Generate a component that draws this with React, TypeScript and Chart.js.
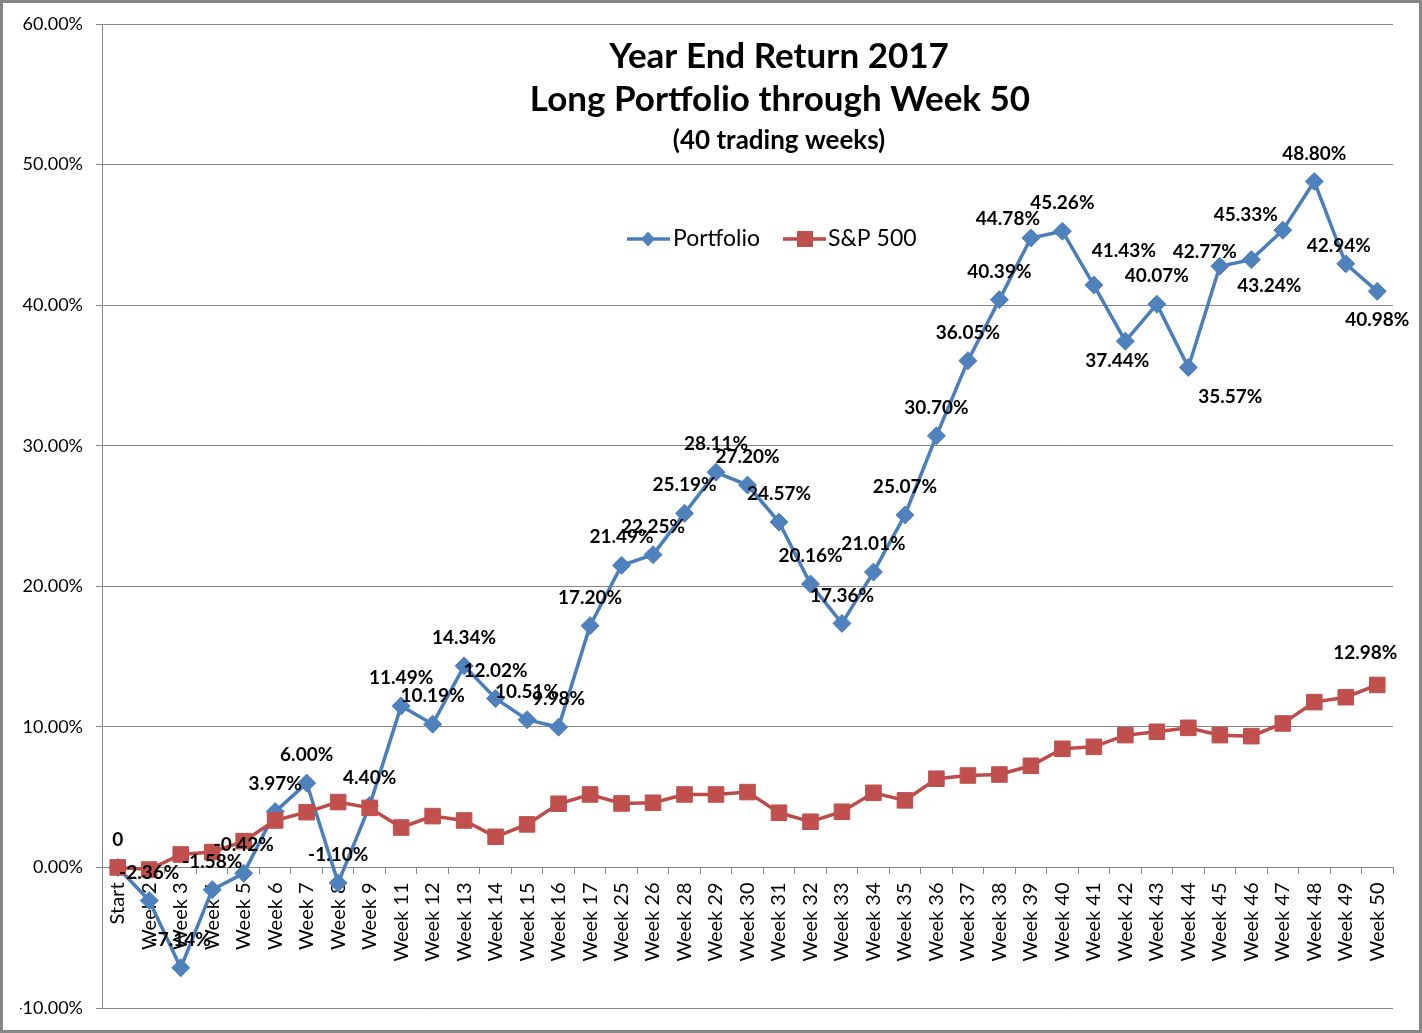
import React, { useEffect, useRef } from "react";
import { Chart, registerables } from "chart.js";

Chart.register(...registerables);

const categories = [
  "Start", "Week 2", "Week 3", "Week 4", "Week 5", "Week 6", "Week 7", "Week 8", "Week 9",
  "Week 11", "Week 12", "Week 13", "Week 14", "Week 15", "Week 16", "Week 17", "Week 25",
  "Week 26", "Week 28", "Week 29", "Week 30", "Week 31", "Week 32", "Week 33", "Week 34",
  "Week 35", "Week 36", "Week 37", "Week 38", "Week 39", "Week 40", "Week 41", "Week 42",
  "Week 43", "Week 44", "Week 45", "Week 46", "Week 47", "Week 48", "Week 49", "Week 50",
];

const portfolio = [
  0, -2.36, -7.14, -1.58, -0.42, 3.97, 6.0, -1.1, 4.4, 11.49, 10.19, 14.34, 12.02, 10.51,
  9.98, 17.2, 21.49, 22.25, 25.19, 28.11, 27.2, 24.57, 20.16, 17.36, 21.01, 25.07, 30.7,
  36.05, 40.39, 44.78, 45.26, 41.43, 37.44, 40.07, 35.57, 42.77, 43.24, 45.33, 48.8, 42.94,
  40.98,
];

const sp500 = [
  0, -0.15, 0.92, 1.09, 1.87, 3.34, 3.93, 4.65, 4.24, 2.84, 3.65, 3.34, 2.18, 3.06, 4.53,
  5.19, 4.55, 4.6, 5.19, 5.19, 5.36, 3.89, 3.25, 3.96, 5.31, 4.77, 6.31, 6.54, 6.61, 7.23,
  8.44, 8.58, 9.41, 9.65, 9.93, 9.41, 9.34, 10.24, 11.76, 12.11, 12.98,
];

const seriesNames = ["Portfolio", "S&P 500"];
const titleLines = ["Year End Return 2017", "Long Portfolio through Week 50", "(40 trading weeks)"];
const yMin = -10;
const yMax = 60;
const yStep = 10;

const portfolioLabels = portfolio.map((v, i) => (i === 0 ? "0" : v.toFixed(2) + "%"));
const sp500LastLabel = sp500[sp500.length - 1].toFixed(2) + "%";

// label placement offsets (pixels) relative to the point
const defaultLabelOffset: [number, number] = [0, -28];
const portfolioLabelOffsets: Record<number, [number, number]> = {
  29: [-23, -19],
  31: [30, -34],
  32: [-8, 20],
  34: [42, 29],
  35: [-15, -14],
  36: [18, 26],
  37: [-37, -15],
  39: [-7, -18],
  40: [0, 29],
};

const FONT = "Lato, 'Open Sans', sans-serif";
const BLUE = "#4F81BD";
const BLUE_LINE = "#4A7EBB";
const RED = "#C0504D";
const RED_LINE = "#BE4B48";
const GRID = "#868686";

const decorPlugin = {
  id: "decor",
  beforeDraw(chart: any) {
    const ctx = chart.ctx;
    ctx.save();
    ctx.fillStyle = "#fff";
    ctx.fillRect(0, 0, chart.width, chart.height);
    ctx.restore();
  },
  afterDatasetsDraw(chart: any) {
    const ctx = chart.ctx;
    ctx.save();
    ctx.font = `bold 19px ${FONT}`;
    ctx.fillStyle = "#000";
    ctx.textAlign = "center";
    ctx.textBaseline = "middle";
    const m0 = chart.getDatasetMeta(0);
    m0.data.forEach((pt: any, i: number) => {
      const off = portfolioLabelOffsets[i] ?? defaultLabelOffset;
      ctx.fillText(portfolioLabels[i], pt.x + off[0], pt.y + off[1]);
    });
    const m1 = chart.getDatasetMeta(1);
    const last = m1.data[m1.data.length - 1];
    ctx.fillText(sp500LastLabel, last.x - 12, last.y - 32);
    ctx.restore();
  },
  afterDraw(chart: any) {
    const ctx = chart.ctx;
    ctx.save();
    // title
    ctx.fillStyle = "#000";
    ctx.textAlign = "center";
    ctx.textBaseline = "alphabetic";
    ctx.font = `bold 35px ${FONT}`;
    ctx.fillText(titleLines[0], 779, 68);
    ctx.fillText(titleLines[1], 780, 111);
    ctx.font = `bold 26px ${FONT}`;
    ctx.fillText(titleLines[2], 779, 149);

    // legend
    const ly = 239;
    ctx.lineWidth = 3.5;
    ctx.strokeStyle = BLUE_LINE;
    ctx.beginPath();
    ctx.moveTo(627, ly);
    ctx.lineTo(670, ly);
    ctx.stroke();
    ctx.fillStyle = BLUE;
    ctx.beginPath();
    ctx.moveTo(648 - 7, ly);
    ctx.lineTo(648, ly - 7.5);
    ctx.lineTo(648 + 7, ly);
    ctx.lineTo(648, ly + 7.5);
    ctx.closePath();
    ctx.fill();

    ctx.strokeStyle = RED_LINE;
    ctx.beginPath();
    ctx.moveTo(783, ly);
    ctx.lineTo(826, ly);
    ctx.stroke();
    ctx.fillStyle = RED;
    ctx.fillRect(805 - 8, ly - 8, 16, 16);

    ctx.fillStyle = "#000";
    ctx.font = `23px ${FONT}`;
    ctx.textAlign = "left";
    ctx.textBaseline = "middle";
    ctx.fillText(seriesNames[0], 673, ly);
    ctx.fillText(seriesNames[1], 828, ly);

    // outer border
    ctx.strokeStyle = GRID;
    ctx.lineWidth = 3;
    ctx.strokeRect(1.5, 1.5, chart.width - 3, chart.height - 3);
    ctx.restore();
  },
};

export default function App() {
  const ref = useRef<HTMLCanvasElement | null>(null);

  useEffect(() => {
    if (!ref.current) return;
    const chart = new Chart(ref.current, {
      type: "line",
      data: {
        labels: categories,
        datasets: [
          {
            label: seriesNames[0],
            data: portfolio,
            borderColor: BLUE_LINE,
            borderWidth: 3.5,
            backgroundColor: BLUE,
            pointStyle: "rectRot",
            pointRadius: 9,
            pointBackgroundColor: BLUE,
            pointBorderColor: BLUE,
            pointBorderWidth: 1,
            tension: 0,
            order: 1,
          },
          {
            label: seriesNames[1],
            data: sp500,
            borderColor: RED_LINE,
            borderWidth: 3.5,
            backgroundColor: RED,
            pointStyle: "rect",
            pointRadius: 11,
            pointBackgroundColor: RED,
            pointBorderColor: RED,
            pointBorderWidth: 1,
            tension: 0,
            order: 0,
          },
        ],
      },
      options: {
        responsive: false,
        animation: false,
        events: [],
        layout: { padding: { left: 20, right: 29, top: 24, bottom: 25 } },
        plugins: {
          legend: { display: false },
          title: { display: false },
          tooltip: { enabled: false },
        },
        scales: {
          x: {
            type: "category",
            position: { y: 0 } as any,
            offset: true,
            grid: {
              display: true,
              drawOnChartArea: false,
              drawTicks: true,
              tickLength: 6,
              offset: true,
              color: GRID,
            },
            border: { display: true, color: GRID, width: 1 },
            ticks: {
              autoSkip: false,
              minRotation: 90,
              maxRotation: 90,
              padding: 9,
              color: "#000",
              font: { family: FONT, size: 20 },
            },
            afterFit: (s: any) => {
              s.paddingLeft = 0;
              s.paddingRight = 0;
            },
          },
          y: {
            min: yMin,
            max: yMax,
            grid: { color: GRID, lineWidth: 1, tickLength: 6, drawTicks: true },
            border: { display: true, color: GRID, width: 1 },
            ticks: {
              stepSize: yStep,
              padding: 13,
              color: "#000",
              font: { family: FONT, size: 18 },
              callback: (v: any) => Number(v).toFixed(2) + "%",
            },
            afterFit: (s: any) => {
              s.width = 82;
              s.paddingTop = 0;
              s.paddingBottom = 0;
            },
          },
        },
      },
      plugins: [decorPlugin],
    });
    return () => chart.destroy();
  }, []);

  return (
    <div style={{ position: "absolute", left: 0, top: 0, width: 1422, height: 1033 }}>
      <canvas ref={ref} width={1422} height={1033} style={{ display: "block" }} />
    </div>
  );
}
